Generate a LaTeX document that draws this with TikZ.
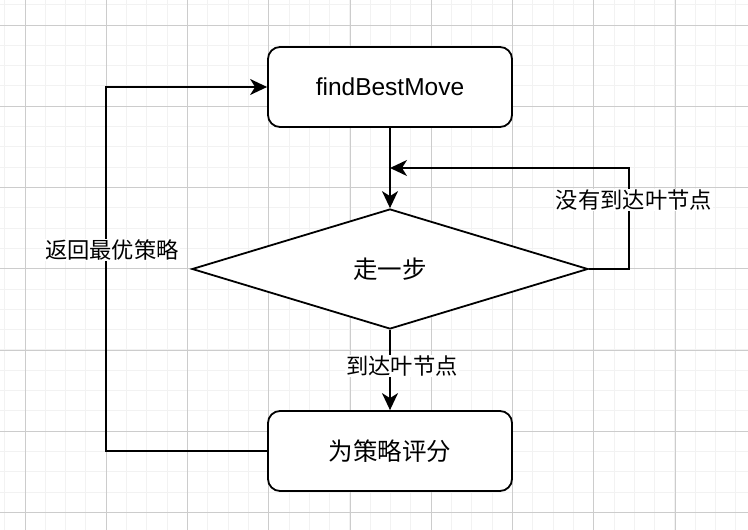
\documentclass[tikz,border=0pt]{standalone}
\usepackage{fontspec}
\setmainfont{Noto Sans CJK SC}
\newfontfamily\latinfont{Liberation Sans}
\usetikzlibrary{shapes.geometric,arrows.meta}
\tikzset{
  box/.style={draw,line width=1.8pt,rounded corners=12pt,fill=white,
    minimum width=244pt,minimum height=80pt,font=\fontsize{24.5}{28}\selectfont},
  decision/.style={draw,diamond,line width=1.8pt,fill=white,inner sep=0pt,
    minimum width=396pt,minimum height=120pt,font=\fontsize{24.5}{28}\selectfont},
  flow/.style={line width=1.8pt,-{Stealth[length=17pt,width=16pt,inset=5pt]}},
  lbl/.style={fill=white,inner sep=1pt,font=\fontsize{22.3}{26}\selectfont},
  minor/.style={draw=black!5,line width=1pt},
  major/.style={draw=black!20,line width=1pt}
}
\begin{document}
\begin{tikzpicture}[x=1pt,y=-1pt]
  \useasboundingbox[fill=white] (0,0) rectangle (748,530);
  \foreach \i in {0,...,37} {
    \draw[minor] (4.7+\i*20.31,0) -- (4.7+\i*20.31,530);
    \draw[minor] (0,4.7+\i*20.31) -- (748,4.7+\i*20.31);
  }
  \foreach \i in {0,...,9} {
    \draw[major] (25+\i*81.25,0) -- (25+\i*81.25,530);
    \draw[major] (0,25+\i*81.25) -- (748,25+\i*81.25);
  }
  \node[box] (move) at (390,87) {\latinfont findBestMove};
  \node[decision] (walk) at (390,269) {走一步};
  \node[box] (score) at (390,451) {为策略评分};
  \coordinate (loopR) at (629,168);
  \coordinate (join) at (390,168);
  \coordinate (loopL) at (106,87);
  \begin{scope}[flow]
    \draw (move) -- (walk);
    \draw (walk.east) -| (loopR) -- (join);
    \draw (walk) -- (score);
    \draw (score.west) -| (loopL) -- (move);
  \end{scope}
  \node[lbl] (notleaf) at (634,200) {没有到达叶节点};
  \node[lbl] (leaf) at (402,366) {到达叶节点};
  \node[lbl] (back) at (112,250) {返回最优策略};
\end{tikzpicture}
\end{document}
